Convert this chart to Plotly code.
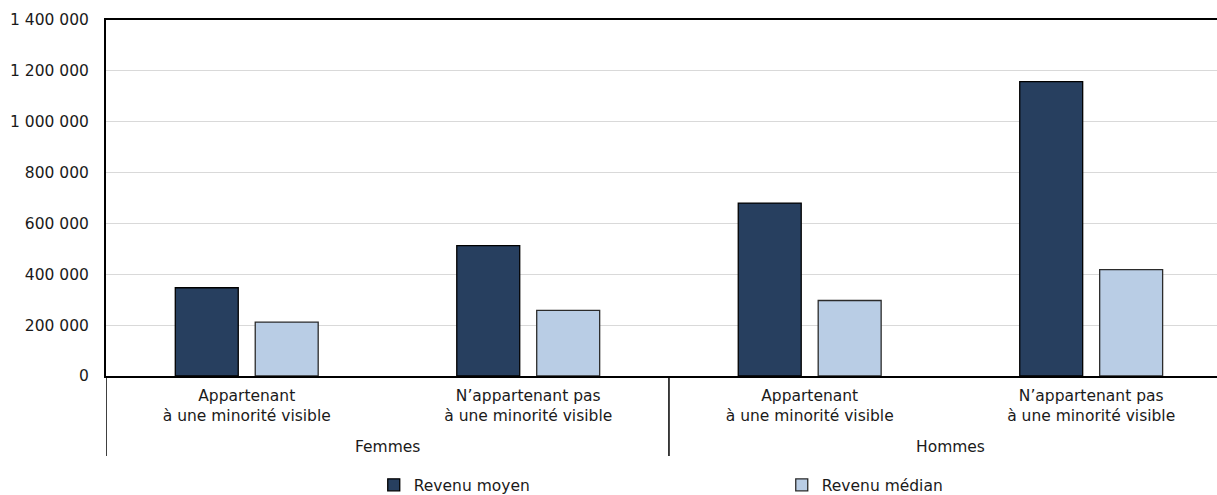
import plotly.graph_objects as go

# Categories (sub-group labels and their parent groups)
subgroups = [
    "Appartenant<br>à une minorité visible",
    "N’appartenant pas<br>à une minorité visible",
    "Appartenant<br>à une minorité visible",
    "N’appartenant pas<br>à une minorité visible",
]
groups = ["Femmes", "Hommes"]

# Series values
revenu_moyen = [347000, 513000, 680000, 1158000]
revenu_median = [212000, 258000, 297000, 418000]

# Y axis ticks
y_ticks = [0, 200000, 400000, 600000, 800000, 1000000, 1200000, 1400000]

FONT = "DejaVu Sans, Verdana, sans-serif"
FS = 15.5
TEXT = "#1a1a1a"
DARK = "#273f5f"
LIGHT = "#b9cde5"

xpos = list(range(len(subgroups)))

fig = go.Figure()
fig.add_trace(go.Bar(
    x=xpos, y=revenu_moyen, name="Revenu moyen",
    marker=dict(color=DARK, line=dict(color="#000000", width=1.3)),
))
fig.add_trace(go.Bar(
    x=xpos, y=revenu_median, name="Revenu médian",
    marker=dict(color=LIGHT, line=dict(color="#2b2b2b", width=1.3)),
))

# Group labels under the sub-category labels
for i, g in enumerate(groups):
    fig.add_annotation(
        x=2 * i + 0.5, xref="x", y=-0.199, yref="paper",
        text=g, showarrow=False, yanchor="middle", xanchor="center",
        font=dict(family=FONT, size=FS, color=TEXT),
    )

# Group dividers below the axis
for xd in [-0.5, 1.5]:
    fig.add_shape(
        type="line", xref="x", yref="paper",
        x0=xd, x1=xd, y0=0, y1=-0.225,
        line=dict(color="#000000", width=1.5),
    )

fig.update_layout(
    width=1217, height=495,
    margin=dict(l=106, r=0, t=20, b=119, autoexpand=False),
    paper_bgcolor="white", plot_bgcolor="white",
    separators=", ",
    barmode="group", bargap=0.432, bargroupgap=0.2125,
    font=dict(family=FONT, size=FS, color=TEXT),
    showlegend=True,
    legend=dict(
        orientation="h", x=0.241, xanchor="left", y=-0.307, yanchor="middle",
        entrywidth=363, entrywidthmode="pixels",
        font=dict(family=FONT, size=FS, color=TEXT),
        bgcolor="rgba(0,0,0,0)",
    ),
    xaxis=dict(
        range=[-0.5, 3.447],
        tickmode="array", tickvals=xpos, ticktext=subgroups,
        showgrid=False, zeroline=False,
        showline=True, linecolor="#000000", linewidth=2, mirror=True,
        ticks="", ticklabelstandoff=4,
        tickfont=dict(family=FONT, size=FS, color=TEXT),
        fixedrange=True,
    ),
    yaxis=dict(
        range=[0, 1400000],
        tickmode="array", tickvals=y_ticks,
        tickformat=",d",
        showgrid=True, gridcolor="#d9d9d9", gridwidth=1.3,
        zeroline=False,
        showline=True, linecolor="#000000", linewidth=2,
        ticks="", ticklabelstandoff=12,
        tickfont=dict(family=FONT, size=FS, color=TEXT),
        fixedrange=True,
    ),
)

fig.write_html("out.html")
